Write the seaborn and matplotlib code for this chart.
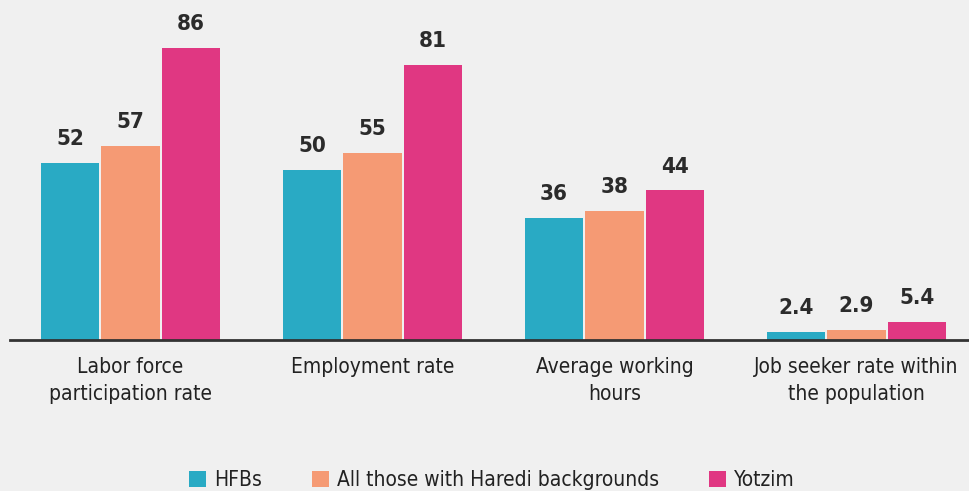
import matplotlib
matplotlib.use("Agg")
import matplotlib.pyplot as plt
import seaborn as sns
import pandas as pd

categories = ["Labor force\nparticipation rate", "Employment rate",
              "Average working\nhours", "Job seeker rate within\nthe population"]
series_names = ["HFBs", "All those with Haredi backgrounds", "Yotzim"]
hfbs = [52, 50, 36, 2.4]
haredi_all = [57, 55, 38, 2.9]
yotzim = [86, 81, 44, 5.4]
colors = ["#29AAC4", "#F59A74", "#E03782"]

rows = []
for name, vals in zip(series_names, [hfbs, haredi_all, yotzim]):
    for c, v in zip(categories, vals):
        rows.append({"category": c, "group": name, "value": v})
df = pd.DataFrame(rows)

sns.set_theme(style="white")
plt.rcParams["font.family"] = ["DejaVu Sans"]
plt.rcParams["font.stretch"] = "condensed"
bg = "#F0F0F0"
fig = plt.figure(figsize=(9.69, 4.91), dpi=100, facecolor=bg)
ax = fig.add_axes([10 / 969, 151 / 491, 959 / 969, 340 / 491])
ax.set_facecolor(bg)

sns.barplot(data=df, x="category", y="value", hue="group", palette=colors,
            saturation=1, width=0.75, gap=0.04, edgecolor="none", linewidth=0,
            ax=ax, legend=True)

for cont in ax.containers:
    labels = [f"{b.get_height():g}" for b in cont]
    ax.bar_label(cont, labels=labels, padding=10, fontsize=16, color="#2b2b2b",
                 fontweight="bold")

ax.set_xlim(-0.498, 3.465)
ax.set_ylim(0, 100)
ax.set_xlabel("")
ax.set_ylabel("")
ax.set_yticks([])
ax.tick_params(axis="x", length=0, pad=12, labelsize=15, colors="#222222")
for t in ax.get_xticklabels():
    t.set_linespacing(1.45)
for s in ["top", "left", "right"]:
    ax.spines[s].set_visible(False)
ax.spines["bottom"].set_color("#333333")
ax.spines["bottom"].set_linewidth(2)

handles, labs = ax.get_legend_handles_labels()
ax.legend_.remove()
fig.legend(handles, labs, loc="center", bbox_to_anchor=(492 / 969, 11 / 491),
           ncol=3, frameon=False, fontsize=15, handlelength=0.8, handleheight=0.8,
           handletextpad=0.4, columnspacing=2.4, labelcolor="#222222")

fig.savefig("out.png", dpi=100, facecolor=bg)
